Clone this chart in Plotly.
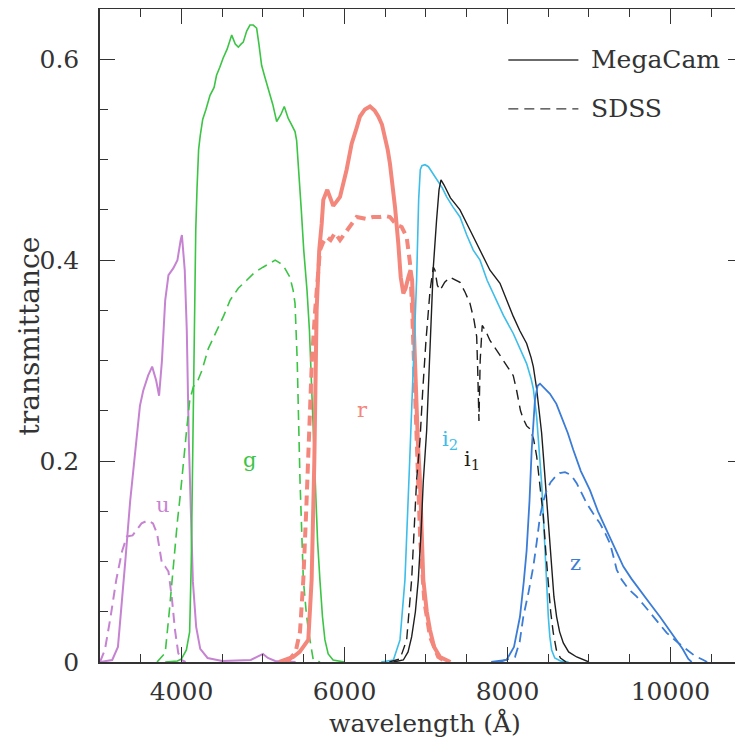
import plotly.graph_objects as go

# ---------------- data (wavelength in Angstrom, transmittance) ----------------
u_mega_wl = [3000, 3150, 3220, 3270, 3310, 3370, 3430, 3490, 3530, 3590, 3640, 3690, 3725, 3760, 3800, 3840,
             3900, 3950, 3990, 4005, 4040, 4065, 4090, 4110, 4140, 4180, 4230, 4320, 4500, 4850, 4950, 5000,
             5060, 5150, 5400]
u_mega_t = [0, 0.002, 0.015, 0.06, 0.1, 0.16, 0.21, 0.255, 0.27, 0.285, 0.294, 0.28, 0.265, 0.3, 0.36, 0.385,
            0.392, 0.4, 0.42, 0.425, 0.39, 0.33, 0.22, 0.16, 0.08, 0.035, 0.013, 0.004, 0.001, 0.002, 0.006, 0.008,
            0.004, 0.001, 0]

u_sdss_wl = [3000, 3060, 3130, 3200, 3270, 3330, 3400, 3450, 3510, 3590, 3650, 3700, 3740, 3760, 3800, 3840,
             3880, 3920, 3960, 4000, 4050]
u_sdss_t = [0, 0.012, 0.045, 0.082, 0.11, 0.125, 0.126, 0.132, 0.138, 0.141, 0.138, 0.128, 0.11, 0.098, 0.095,
            0.09, 0.065, 0.032, 0.009, 0.002, 0]

g_mega_wl = [3800, 3950, 4000, 4060, 4100, 4120, 4140, 4160, 4175, 4190, 4210, 4230, 4260, 4300, 4350, 4400,
             4430, 4470, 4510, 4560, 4616, 4660, 4697, 4730, 4758, 4800, 4840, 4880, 4922, 4950, 4983, 5020,
             5065, 5120, 5168, 5220, 5261, 5290, 5310, 5350, 5393, 5413, 5440, 5470, 5500, 5540, 5570, 5610,
             5640, 5670, 5700, 5730, 5760, 5800, 5860, 6000]
g_mega_t = [0, 0.001, 0.003, 0.012, 0.03, 0.1, 0.22, 0.36, 0.43, 0.47, 0.51, 0.524, 0.54, 0.55, 0.564, 0.572,
            0.584, 0.592, 0.601, 0.61, 0.624, 0.615, 0.612, 0.615, 0.617, 0.628, 0.634, 0.634, 0.631, 0.615,
            0.594, 0.583, 0.571, 0.555, 0.538, 0.545, 0.553, 0.546, 0.541, 0.535, 0.528, 0.519, 0.49, 0.45,
            0.41, 0.37, 0.33, 0.24, 0.18, 0.12, 0.08, 0.045, 0.022, 0.008, 0.002, 0]

g_sdss_wl = [3700, 3800, 3850, 3900, 3950, 3990, 4030, 4063, 4100, 4145, 4200, 4250, 4329, 4432, 4520, 4595,
             4697, 4800, 4900, 5000, 5100, 5150, 5209, 5260, 5331, 5370, 5393, 5420, 5454, 5495, 5530, 5556,
             5617, 5700]
g_sdss_t = [0, 0.009, 0.05, 0.098, 0.14, 0.17, 0.2, 0.231, 0.26, 0.274, 0.28, 0.29, 0.312, 0.33, 0.345, 0.36,
            0.372, 0.38, 0.388, 0.393, 0.398, 0.4, 0.397, 0.393, 0.383, 0.37, 0.357, 0.3, 0.181, 0.082, 0.05,
            0.032, 0.002, 0]

r_mega_wl = [5200, 5370, 5450, 5500, 5556, 5597, 5630, 5658, 5690, 5720, 5740, 5789, 5830, 5862, 5900, 5945,
             6026, 6088, 6150, 6190, 6250, 6313, 6370, 6415, 6460, 6497, 6530, 6558, 6590, 6620, 6660, 6690,
             6722, 6750, 6783, 6810, 6830, 6850, 6870, 6900, 6926, 6967, 7010, 7049, 7100, 7172, 7300]
r_mega_t = [0, 0.005, 0.01, 0.015, 0.022, 0.082, 0.2, 0.35, 0.41, 0.436, 0.46, 0.47, 0.462, 0.454, 0.458, 0.463,
            0.49, 0.516, 0.532, 0.543, 0.55, 0.553, 0.549, 0.543, 0.535, 0.523, 0.51, 0.496, 0.475, 0.453, 0.417,
            0.383, 0.367, 0.372, 0.383, 0.39, 0.38, 0.33, 0.27, 0.22, 0.181, 0.082, 0.05, 0.032, 0.015, 0.005, 0]

r_sdss_wl = [5300, 5400, 5454, 5495, 5530, 5560, 5600, 5640, 5670, 5699, 5740, 5781, 5830, 5883, 5945, 6026,
             6088, 6150, 6272, 6350, 6436, 6500, 6558, 6640, 6702, 6763, 6804, 6830, 6860, 6890, 6930, 6980,
             7050, 7150, 7250]
r_sdss_t = [0, 0.01, 0.03, 0.082, 0.15, 0.22, 0.3, 0.35, 0.385, 0.41, 0.418, 0.423, 0.42, 0.427, 0.42, 0.43,
            0.436, 0.443, 0.441, 0.443, 0.443, 0.444, 0.443, 0.435, 0.433, 0.423, 0.397, 0.35, 0.28, 0.2, 0.12,
            0.06, 0.025, 0.005, 0]

i2_mega_wl = [6450, 6600, 6681, 6742, 6800, 6850, 6885, 6910, 6930, 6950, 6988, 7030, 7070, 7131, 7200, 7254,
              7330, 7417, 7500, 7580, 7663, 7750, 7867, 7950, 8071, 8150, 8235, 8290, 8317, 8358, 8390, 8419,
              8440, 8460, 8480, 8501, 8520, 8542, 8580, 8650, 8750]
i2_mega_t = [0, 0.002, 0.022, 0.082, 0.2, 0.3, 0.38, 0.46, 0.49, 0.494, 0.495, 0.493, 0.488, 0.481, 0.472,
             0.463, 0.453, 0.443, 0.425, 0.41, 0.4, 0.38, 0.36, 0.345, 0.327, 0.313, 0.297, 0.282, 0.272, 0.244,
             0.21, 0.178, 0.145, 0.111, 0.078, 0.045, 0.025, 0.012, 0.004, 0.001, 0]

i1_mega_wl = [6600, 6722, 6780, 6824, 6870, 6906, 6940, 6967, 7008, 7049, 7090, 7130, 7160, 7184, 7220, 7300,
              7417, 7540, 7663, 7785, 7908, 7990, 8071, 8150, 8235, 8290, 8317, 8358, 8419, 8450, 8481, 8510,
              8542, 8570, 8603, 8640, 8685, 8750, 8849, 9000]
i1_mega_t = [0, 0.002, 0.01, 0.025, 0.05, 0.082, 0.13, 0.18, 0.23, 0.31, 0.393, 0.44, 0.47, 0.48, 0.475, 0.462,
             0.45, 0.43, 0.41, 0.39, 0.377, 0.36, 0.344, 0.33, 0.317, 0.303, 0.294, 0.272, 0.228, 0.195, 0.161,
             0.125, 0.095, 0.065, 0.045, 0.03, 0.019, 0.01, 0.005, 0]

i_sdss_wl = [6550, 6681, 6763, 6824, 6885, 6926, 6960, 7000, 7050, 7090, 7110, 7140, 7172, 7230, 7294, 7360,
             7417, 7480, 7540, 7590, 7622, 7635, 7642, 7650, 7665, 7690, 7730, 7785, 7870, 7950, 8030, 8071,
             8113, 8160, 8194, 8235, 8276, 8320, 8358, 8400, 8440, 8470, 8501, 8530, 8562, 8600, 8650, 8720]
i_sdss_t = [0, 0.003, 0.022, 0.082, 0.181, 0.22, 0.27, 0.32, 0.37, 0.393, 0.39, 0.375, 0.37, 0.378, 0.383, 0.38,
            0.378, 0.368, 0.357, 0.34, 0.324, 0.29, 0.244, 0.24, 0.3, 0.335, 0.33, 0.32, 0.31, 0.3, 0.29, 0.285,
            0.27, 0.25, 0.242, 0.235, 0.232, 0.222, 0.205, 0.175, 0.145, 0.11, 0.078, 0.05, 0.029, 0.012, 0.004, 0]

z_mega_wl = [7800, 7988, 8080, 8153, 8200, 8235, 8270, 8297, 8337, 8370, 8399, 8450, 8521, 8600, 8665, 8740,
             8808, 8900, 9012, 9110, 9217, 9320, 9422, 9520, 9626, 9750, 9871, 9970, 10076, 10150, 10219, 10260]
z_mega_t = [0, 0.002, 0.015, 0.045, 0.08, 0.111, 0.16, 0.211, 0.261, 0.275, 0.277, 0.273, 0.267, 0.257, 0.244,
            0.228, 0.211, 0.19, 0.171, 0.15, 0.131, 0.112, 0.095, 0.083, 0.072, 0.058, 0.045, 0.034, 0.022,
            0.013, 0.003, 0]

z_sdss_wl = [7900, 8092, 8150, 8194, 8260, 8317, 8360, 8399, 8440, 8481, 8530, 8583, 8640, 8706, 8780, 8849,
             8910, 8971, 9050, 9135, 9200, 9258, 9300, 9340, 9400, 9463, 9520, 9586, 9670, 9750, 9850, 9954,
             10080, 10199, 10300, 10404, 10450]
z_sdss_t = [0, 0.005, 0.02, 0.045, 0.07, 0.095, 0.12, 0.145, 0.16, 0.171, 0.179, 0.184, 0.188, 0.189, 0.186,
            0.178, 0.168, 0.158, 0.148, 0.138, 0.128, 0.118, 0.105, 0.092, 0.082, 0.075, 0.07, 0.065, 0.057,
            0.049, 0.04, 0.029, 0.02, 0.012, 0.006, 0.002, 0]

band_labels = ["u", "g", "r", "i<sub>2</sub>", "i<sub>1</sub>", "z"]
band_label_wl = [3773, 4840, 6227, 7294, 7564, 8840]
band_label_t = [0.156, 0.201, 0.251, 0.221, 0.201, 0.099]

x_tick_vals = [4000, 6000, 8000, 10000]
y_tick_vals = [0, 0.2, 0.4, 0.6]
y_tick_text = ["0", "0.2", "0.4", "0.6"]
legend_names = ["MegaCam", "SDSS"]

# ---------------- styles ----------------
C_U = "#c683d2"
C_G = "#3cc445"
C_R = "#f4877c"
C_I2 = "#3dbde9"
C_I1 = "#1e1e1e"
C_Z = "#3b7cd6"
SERIF = "DejaVu Serif"
DASH = "10px,6px"

fig = go.Figure()

series = [
    (u_mega_wl, u_mega_t, C_U, 2.0, "solid"),
    (u_sdss_wl, u_sdss_t, C_U, 2.0, DASH),
    (g_sdss_wl, g_sdss_t, C_G, 1.6, DASH),
    (g_mega_wl, g_mega_t, C_G, 1.6, "solid"),
    (r_sdss_wl, r_sdss_t, C_R, 4.0, DASH),
    (r_mega_wl, r_mega_t, C_R, 4.0, "solid"),
    (i2_mega_wl, i2_mega_t, C_I2, 1.6, "solid"),
    (i_sdss_wl, i_sdss_t, C_I1, 1.4, DASH),
    (i1_mega_wl, i1_mega_t, C_I1, 1.4, "solid"),
    (z_sdss_wl, z_sdss_t, C_Z, 1.8, DASH),
    (z_mega_wl, z_mega_t, C_Z, 1.8, "solid"),
]
for wl, t, col, w, dash in series:
    fig.add_trace(go.Scatter(x=wl, y=t, mode="lines", line=dict(color=col, width=w, dash=dash),
                             showlegend=False, hoverinfo="skip"))

label_colors = [C_U, C_G, C_R, C_I2, C_I1, C_Z]
for txt, xw, yt, col in zip(band_labels, band_label_wl, band_label_t, label_colors):
    fig.add_annotation(x=xw, y=yt, text=txt, showarrow=False, xref="x", yref="y",
                       font=dict(family=SERIF, size=21, color=col))

# legend drawn manually (top right)
leg_y = [0.922, 0.847]
leg_dash = ["solid", DASH]
for name, yy, dsh in zip(legend_names, leg_y, leg_dash):
    fig.add_shape(type="line", xref="paper", yref="paper", x0=0.635, x1=0.744, y0=yy, y1=yy,
                  line=dict(color="#3a3a3a", width=1.4, dash=dsh))
    fig.add_annotation(xref="paper", yref="paper", x=0.760, y=yy, text=name, showarrow=False,
                       xanchor="left", yanchor="middle", font=dict(family=SERIF, size=25, color="#333"))

# axis titles
fig.add_annotation(xref="paper", yref="paper", x=0.505, y=-0.093, text="wavelength (Å)", showarrow=False,
                   xanchor="center", yanchor="middle", font=dict(family=SERIF, size=25, color="#333"))
fig.add_annotation(xref="paper", yref="paper", x=-0.109, y=0.5, text="transmittance", showarrow=False,
                   textangle=-90, xanchor="center", yanchor="middle", font=dict(family=SERIF, size=28, color="#333"))

axis_common = dict(
    showline=True, linecolor="#333", linewidth=1.5, mirror="allticks",
    ticks="inside", ticklen=15, tickwidth=1.3, tickcolor="#333",
    showgrid=False, zeroline=False, automargin=False,
    tickfont=dict(family=SERIF, size=25, color="#333"),
)

fig.update_xaxes(range=[3000, 10890], tickvals=x_tick_vals, tickformat="d",
                 minor=dict(dtick=500, tick0=3000, ticks="inside", ticklen=8, tickwidth=1.2, tickcolor="#333"),
                 ticklabelstandoff=6, **axis_common)
fig.update_yaxes(range=[0, 0.65], tickvals=y_tick_vals, ticktext=y_tick_text,
                 minor=dict(dtick=0.05, tick0=0, ticks="inside", ticklen=8, tickwidth=1.2, tickcolor="#333"),
                 ticklabelstandoff=14, **axis_common)

# page body has an 8px default margin, so the figure is sized to fit the 743x740 window
fig.update_layout(width=735, height=732, margin=dict(l=92, r=0, t=1, b=78, autoexpand=False),
                  paper_bgcolor="white", plot_bgcolor="white", showlegend=False)

fig.write_html("out.html")
